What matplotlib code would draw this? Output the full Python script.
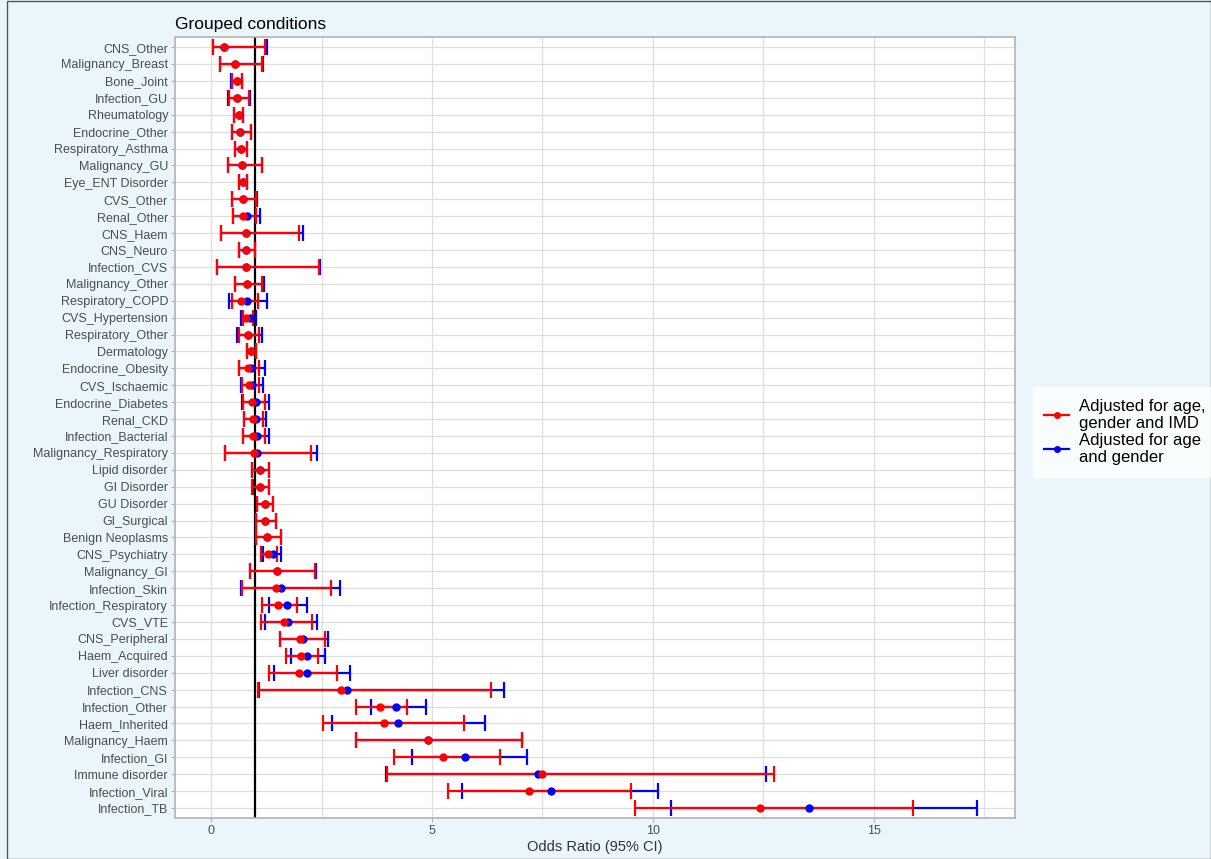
import matplotlib
matplotlib.use("Agg")
import matplotlib.pyplot as plt
from matplotlib.lines import Line2D
from matplotlib.patches import Rectangle
import numpy as np

plt.rcParams["font.family"] = ["Liberation Sans", "DejaVu Sans"]

# 上から順のカテゴリ
conditions = [
    "CNS_Other", "Malignancy_Breast", "Bone_Joint", "Infection_GU", "Rheumatology",
    "Endocrine_Other", "Respiratory_Asthma", "Malignancy_GU", "Eye_ENT Disorder",
    "CVS_Other", "Renal_Other", "CNS_Haem", "CNS_Neuro", "Infection_CVS",
    "Malignancy_Other", "Respiratory_COPD", "CVS_Hypertension", "Respiratory_Other",
    "Dermatology", "Endocrine_Obesity", "CVS_Ischaemic", "Endocrine_Diabetes",
    "Renal_CKD", "Infection_Bacterial", "Malignancy_Respiratory", "Lipid disorder",
    "GI Disorder", "GU Disorder", "GI_Surgical", "Benign Neoplasms", "CNS_Psychiatry",
    "Malignancy_GI", "Infection_Skin", "Infection_Respiratory", "CVS_VTE",
    "CNS_Peripheral", "Haem_Acquired", "Liver disorder", "Infection_CNS",
    "Infection_Other", "Haem_Inherited", "Malignancy_Haem", "Infection_GI",
    "Immune disorder", "Infection_Viral", "Infection_TB",
]

# 年齢・性別・IMD調整 (赤)
or_imd = [0.28, 0.55, 0.58, 0.58, 0.63, 0.66, 0.67, 0.69, 0.72, 0.71, 0.73, 0.78, 0.79, 0.79,
          0.81, 0.67, 0.78, 0.83, 0.90, 0.83, 0.86, 0.92, 0.94, 0.94, 0.97, 1.11, 1.11, 1.21,
          1.22, 1.27, 1.28, 1.49, 1.47, 1.51, 1.64, 2.01, 2.04, 1.98, 2.94, 3.82, 3.91, 4.90,
          5.24, 7.50, 7.20, 12.44]
lo_imd = [0.03, 0.20, 0.47, 0.40, 0.52, 0.48, 0.55, 0.39, 0.62, 0.48, 0.49, 0.22, 0.62, 0.14,
          0.54, 0.47, 0.72, 0.62, 0.81, 0.64, 0.69, 0.72, 0.75, 0.73, 0.32, 0.92, 0.93, 1.03,
          1.02, 1.02, 1.12, 0.87, 0.69, 1.15, 1.12, 1.56, 1.70, 1.30, 1.06, 3.28, 2.53, 3.28,
          4.15, 3.98, 5.36, 9.59]
hi_imd = [1.21, 1.16, 0.69, 0.86, 0.73, 0.90, 0.81, 1.14, 0.81, 1.02, 1.01, 1.98, 1.00, 2.45,
          1.15, 1.06, 0.94, 1.09, 1.02, 1.09, 1.08, 1.21, 1.18, 1.22, 2.26, 1.31, 1.30, 1.41,
          1.47, 1.58, 1.50, 2.35, 2.71, 1.95, 2.29, 2.58, 2.43, 2.84, 6.33, 4.44, 5.73, 7.03,
          6.55, 12.74, 9.50, 15.90]

# 年齢・性別調整 (青)
or_ag = [0.28, 0.55, 0.58, 0.58, 0.63, 0.66, 0.67, 0.69, 0.72, 0.71, 0.81, 0.78, 0.79, 0.79,
         0.81, 0.81, 0.87, 0.83, 0.90, 0.90, 0.93, 1.02, 1.02, 1.03, 1.03, 1.11, 1.11, 1.21,
         1.22, 1.27, 1.41, 1.49, 1.58, 1.71, 1.73, 2.07, 2.18, 2.18, 3.08, 4.19, 4.22, 4.90,
         5.75, 7.41, 7.69, 13.55]
lo_ag = [0.03, 0.20, 0.45, 0.38, 0.52, 0.48, 0.55, 0.39, 0.62, 0.47, 0.50, 0.22, 0.62, 0.14,
         0.54, 0.41, 0.67, 0.58, 0.81, 0.62, 0.67, 0.70, 0.75, 0.72, 0.32, 0.92, 0.94, 1.03,
         1.02, 1.02, 1.17, 0.87, 0.68, 1.32, 1.21, 1.56, 1.80, 1.43, 1.08, 3.62, 2.74, 3.28,
         4.55, 3.96, 5.69, 10.42]
hi_ag = [1.26, 1.18, 0.70, 0.88, 0.73, 0.90, 0.81, 1.14, 0.81, 1.04, 1.11, 2.07, 1.00, 2.47,
         1.20, 1.26, 1.01, 1.15, 1.02, 1.21, 1.17, 1.31, 1.24, 1.31, 2.40, 1.31, 1.31, 1.41,
         1.47, 1.58, 1.58, 2.37, 2.92, 2.18, 2.40, 2.65, 2.58, 3.14, 6.64, 4.86, 6.20, 7.03,
         7.16, 12.56, 10.12, 17.35]

legend_labels = ["Adjusted for age,\ngender and IMD", "Adjusted for age\nand gender"]


def draw_series(ax, y, est, lo, hi, color):
    est = np.array(est)
    err = np.vstack([est - np.array(lo), np.array(hi) - est])
    ax.errorbar(est, y, xerr=err, fmt="o", color=color, ecolor=color,
                markersize=5, elinewidth=1.6, capsize=5.5, capthick=1.6, zorder=3)


fig = plt.figure(figsize=(12.11, 8.59), dpi=100)
fig.patch.set_facecolor("#EAF6FC")
fig.patches.append(Rectangle((0.006, 0.0), 0.994, 0.999, transform=fig.transFigure,
                             fill=False, edgecolor="#555555", linewidth=1.0))

ax = fig.add_axes([0.1445, 0.0475, 0.6935, 0.9095])
ax.set_facecolor("white")

n = len(conditions)
ypos = np.arange(n, 0, -1)

draw_series(ax, ypos, or_ag, lo_ag, hi_ag, "blue")
draw_series(ax, ypos, or_imd, lo_imd, hi_imd, "red")
ax.axvline(1, color="black", linewidth=1.6, zorder=2)

ax.set_xlim(-0.82, 18.2)
ax.set_ylim(0.4, n + 0.6)
ax.set_yticks(ypos)
ax.set_yticklabels(conditions)
ax.set_xticks([0, 5, 10, 15])
ax.set_xticks([2.5, 7.5, 12.5, 17.5], minor=True)
ax.grid(True, which="both", axis="x", color="#DEDEDE", linewidth=0.9, zorder=0)
ax.grid(True, which="major", axis="y", color="#DEDEDE", linewidth=0.9, zorder=0)
ax.set_axisbelow(True)
ax.tick_params(axis="both", which="major", labelsize=9, labelcolor="#4D4D4D",
               color="#B3B3B3", length=3, pad=2)
ax.tick_params(axis="x", which="minor", length=0)
for s in ax.spines.values():
    s.set_color("#B3B3B3")
    s.set_linewidth(1.2)

ax.set_xlabel("Odds Ratio (95% CI)", fontsize=10.5, color="#333333", labelpad=2)
ax.set_title("Grouped conditions", loc="left", fontsize=12.5, color="black", pad=6)

handles = [
    Line2D([0], [0], color="red", marker="o", markersize=4, linewidth=1.6),
    Line2D([0], [0], color="blue", marker="o", markersize=4, linewidth=1.6),
]
fig.legend(handles, legend_labels, loc="center left", bbox_to_anchor=(0.850, 0.497),
           fontsize=12, frameon=True, fancybox=False, edgecolor="white",
           facecolor="white", handlelength=1.5, handletextpad=0.6,
           labelspacing=0.12, borderpad=0.7, borderaxespad=0.2)

fig.savefig("out.png", dpi=100, facecolor=fig.get_facecolor())
